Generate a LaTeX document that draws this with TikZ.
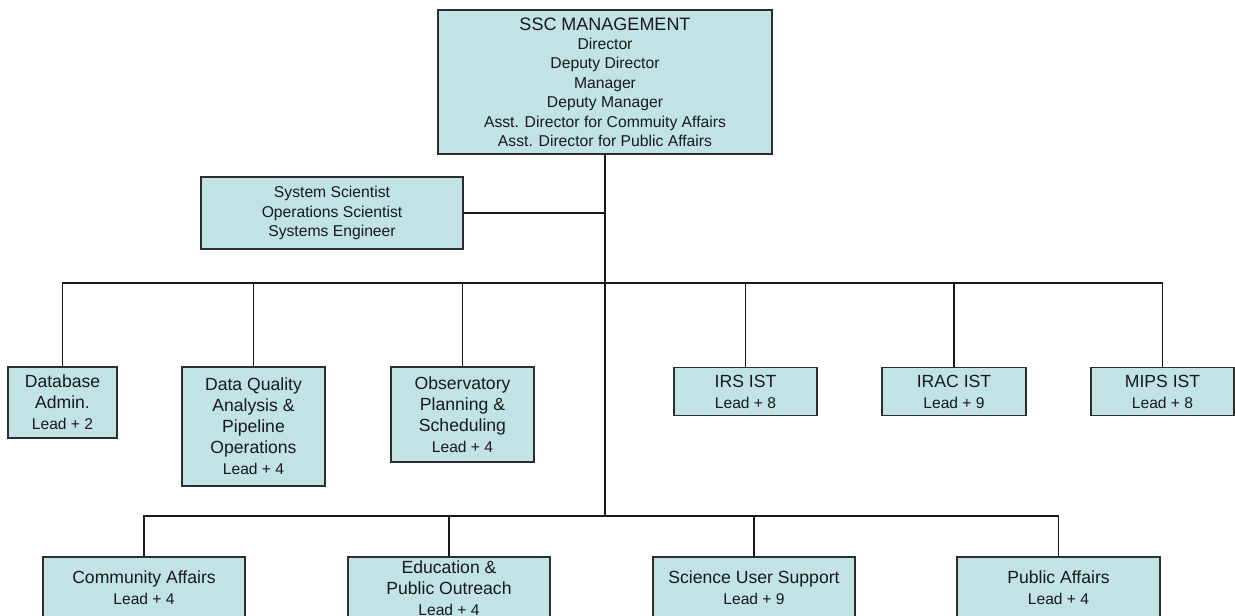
\documentclass[tikz,border=0pt]{standalone}
\usepackage{fontspec}
\setmainfont{Liberation Sans}
\definecolor{boxfill}{RGB}{193,227,230}
\definecolor{boxline}{RGB}{45,45,45}
\definecolor{txt}{RGB}{25,25,25}
\newcommand\leadline[1]{{\fontsize{15.6}{21}\selectfont Lead + #1}}
\begin{document}
\begin{tikzpicture}[x=1pt,y=-1pt,
  box/.style={draw=boxline, fill=boxfill, line width=1.5pt, inner sep=0pt,
    align=center, text=txt, font=\fontsize{17.6}{21}\selectfont},
  link/.style={draw=black!90, line width=1.3pt},
]
\useasboundingbox (0,0) rectangle (1235,616);
\clip (0,0) rectangle (1235,616);

% top
\node[box, minimum width=334, minimum height=144, font=\fontsize{15.7}{19.4}\selectfont] (mgmt) at (605,82)
  {{\fontsize{18}{19.4}\selectfont SSC MANAGEMENT}\\Director\\Deputy Director\\Manager\\Deputy Manager\\Asst. Director for Commuity Affairs\\Asst. Director for Public Affairs};
\node[box, minimum width=262, minimum height=72, font=\fontsize{15.7}{19.5}\selectfont] (sys) at (332,213)
  {System Scientist\\Operations Scientist\\Systems Engineer};

% middle row
\node[box, minimum width=109, minimum height=71] (db) at (62.5,402.5) {Database\\Admin.\\\leadline{2}};
\node[box, minimum width=143, minimum height=119] (dq) at (253.5,426.5) {Data Quality\\Analysis \&\\Pipeline\\Operations\\\leadline{4}};
\node[box, minimum width=143, minimum height=95] (obs) at (462.5,414.5) {Observatory\\Planning \&\\Scheduling\\\leadline{4}};
\node[box, minimum width=143, minimum height=48] (irs) at (745.5,391.5) {IRS IST\\\leadline{8}};
\node[box, minimum width=144, minimum height=48] (irac) at (954,391.5) {IRAC IST\\\leadline{9}};
\node[box, minimum width=143, minimum height=48] (mips) at (1162.5,391.5) {MIPS IST\\\leadline{8}};

% bottom row
\node[box, minimum width=202, minimum height=62] (comm) at (144,588) {Community Affairs\\\leadline{4}};
\node[box, minimum width=202, minimum height=62] (edu) at (449,588) {Education \&\\Public Outreach\\\leadline{4}};
\node[box, minimum width=202, minimum height=62] (sus) at (754,588) {Science User Support\\\leadline{9}};
\node[box, minimum width=203, minimum height=62] (pub) at (1058.5,588) {Public Affairs\\\leadline{4}};

% connectors
\coordinate (b1) at (605,283);
\coordinate (b2) at (605,516);
\draw[link] (mgmt.south) -- (b2);
\draw[link] (sys.east) -- (sys.east -| mgmt.south);
\draw[link] (db.north) |- (b1) -| (mips.north);
\foreach \n in {dq,obs,irs,irac} \draw[link] (\n.north) -- (\n.north |- b1);
\draw[link] (comm.north) |- (b2) -| (pub.north);
\foreach \n in {edu,sus} \draw[link] (\n.north) -- (\n.north |- b2);
\end{tikzpicture}
\end{document}
